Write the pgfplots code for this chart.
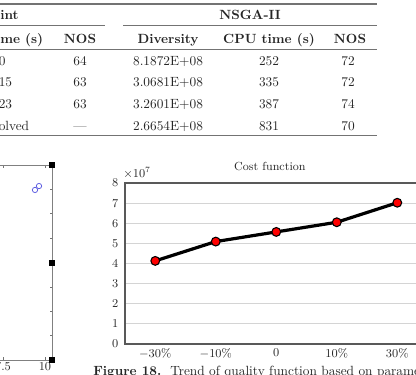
\documentclass[border=0pt]{standalone}
\usepackage{pgfplots}
\pgfplotsset{compat=1.18}
\definecolor{rulegray}{gray}{0.45}
\definecolor{txt}{gray}{0.15}
\definecolor{markblue}{RGB}{95,95,225}
\begin{document}
\begin{tikzpicture}[x=0.75pt,y=0.75pt]
\useasboundingbox (0,0) rectangle (416,374);
\clip (0,0) rectangle (416,374);

% ---------------- results table ----------------
\begin{scope}[every node/.style={inner sep=0pt,text=txt,font=\fontsize{10}{12}\selectfont}]
  \draw[rulegray,line width=0.9pt] (0,370) -- (377,370);
  \draw[rulegray,line width=0.6pt] (0,348.5) -- (105,348.5);
  \draw[rulegray,line width=0.6pt] (123,348.5) -- (377,348.5);
  \draw[rulegray,line width=0.6pt] (0,325) -- (377,325);
  \draw[rulegray,line width=0.9pt] (0,238.5) -- (377,238.5);
  % header
  \node[anchor=base west] at (0,354.5) {\bfseries int};
  \node[anchor=base] at (250,354.5) {\bfseries NSGA-II};
  \node[anchor=base west] at (0,330.5) {\bfseries me (s)};
  \node[anchor=base] at (80,330.5) {\bfseries NOS};
  \node[anchor=base] at (168,330.5) {\bfseries Diversity};
  \node[anchor=base] at (269,330.5) {\bfseries CPU time (s)};
  \node[anchor=base] at (350,330.5) {\bfseries NOS};
  % body
  \foreach \c/\n/\d/\t/\m/\yy in {0/64/8.1872E+08/252/72/308.5,
                                  15/63/3.0681E+08/335/72/287,
                                  23/63/3.2601E+08/387/74/265.3} {
    \node[anchor=base west] at (-1.5,\yy) {\c};
    \node[anchor=base] at (80,\yy) {\n};
    \node[anchor=base] at (168,\yy) {\d};
    \node[anchor=base] at (269,\yy) {\t};
    \node[anchor=base] at (348,\yy) {\m};
  }
  \node[anchor=base west] at (-1.5,243.7) {olved};
  \node[anchor=base] at (80,243.7) {---};
  \node[anchor=base] at (168,243.7) {2.6654E+08};
  \node[anchor=base] at (269,243.7) {831};
  \node[anchor=base] at (348,243.7) {70};
\end{scope}

% ---------------- neighbouring panel ----------------
\begin{axis}[
  at={(39pt,10.5pt)}, anchor=south east,
  scale only axis, width=68.25pt, height=146.25pt,
  xmin=5, xmax=10.417, ymin=0, ymax=1,
  xtick={7.5,10}, xticklabels={$7.5$,$10$},
  ytick={0,0.5,1}, yticklabels={},
  minor y tick num=3,
  major tick length=2.5pt, minor tick length=1.6pt,
  tick style={black!55,line width=0.5pt},
  axis line style={black!50,line width=0.7pt},
  tick label style={font=\fontsize{8.8}{10}\selectfont,text=txt},
  xticklabel style={yshift=1.5pt},
  clip=false,
]
\addplot[only marks,mark=square*,mark size=1.9pt,black]
  coordinates {(10.417,0) (10.417,0.5) (10.417,1)};
\addplot[only marks,mark=o,mark size=2pt,markblue,mark options={line width=0.6pt}]
  coordinates {(9.405,0.872) (9.643,0.892)};
\end{axis}

% ---------------- cost function ----------------
\begin{axis}[
  at={(93.75pt,22.5pt)}, anchor=south west,
  scale only axis, width=226.9pt, height=120.75pt,
  xmin=-0.5, xmax=4.5, ymin=0, ymax=8e7,
  xtick={0,1,2,3,4},
  xticklabels={$-30\%$,$-10\%$,$0$,$10\%$,$30\%$},
  ytick={0,1e7,2e7,3e7,4e7,5e7,6e7,7e7,8e7},
  scaled y ticks=base 10:-7,
  ytick scale label code/.code={$\times 10^{#1}$},
  every y tick scale label/.style={at={(rel axis cs:0,1)},anchor=south west,inner sep=0pt,yshift=3pt},
  ymajorgrids, grid style={black!17,line width=0.9pt},
  axis line style={black!65,line width=0.9pt},
  tick style={draw=none},
  tick label style={font=\fontsize{8.8}{10}\selectfont,text=txt},
  yticklabel style={xshift=-1.5pt},
  title={Cost function},
  title style={font=\fontsize{8.8}{10}\selectfont,text=txt,at={(rel axis cs:0.479,1)}},
  clip=false,
]
\addplot[black,line width=2.4pt,mark=*,mark size=3.3pt,
         mark options={fill=red,draw=black,line width=0.8pt}]
  coordinates {(0,4.13e7) (1,5.09e7) (2,5.57e7) (3,6.05e7) (4,7.02e7)};
\end{axis}

% caption
\node[anchor=base west,inner sep=0pt,font=\fontsize{10}{12}\selectfont,text=txt]
  at (93,-1.5) {\textbf{Figure 18.}\ \ Trend of quality function based on parameters};
\end{tikzpicture}
\end{document}
